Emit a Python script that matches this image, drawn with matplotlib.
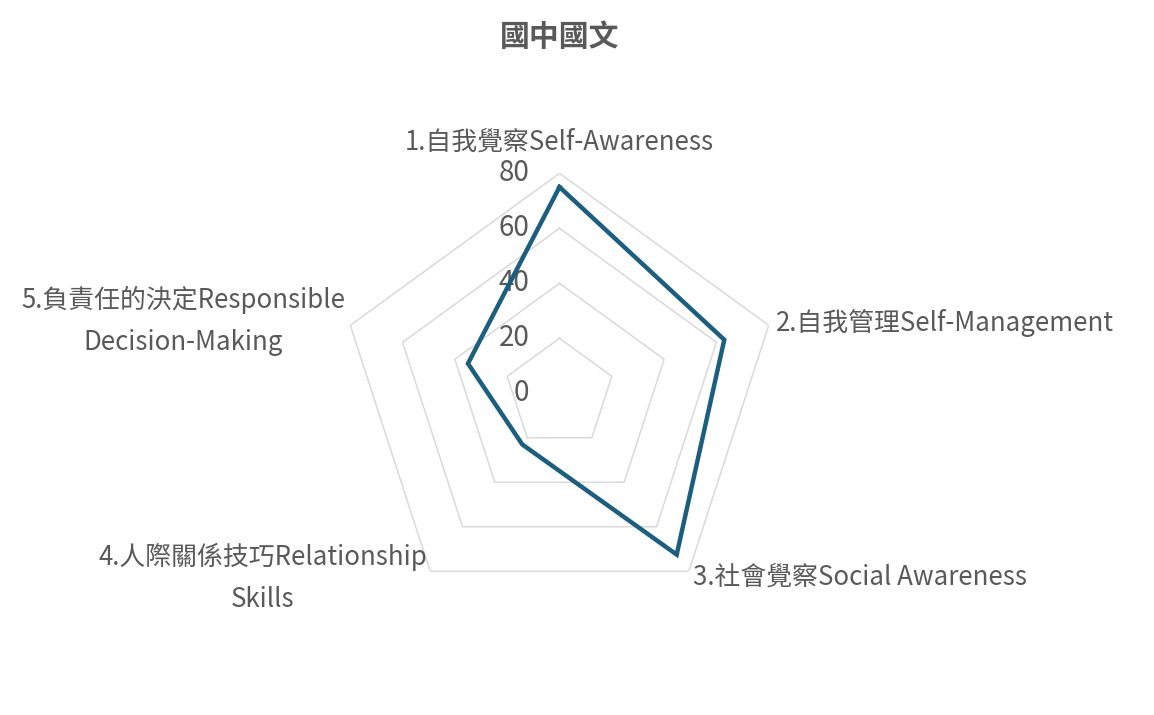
import numpy as np
import matplotlib
matplotlib.use("Agg")
import matplotlib.pyplot as plt
from matplotlib.transforms import offset_copy

plt.rcParams['font.family'] = ['Noto Sans CJK TC', 'DejaVu Sans']

title = "國中國文"
categories = [
    "1.自我覺察Self-Awareness",
    "2.自我管理Self-Management",
    "3.社會覺察Social Awareness",
    "4.人際關係技巧Relationship\nSkills",
    "5.負責任的決定Responsible\nDecision-Making",
]
values = [75, 63, 72.5, 23, 35]
rticks = [0, 20, 40, 60, 80]

W, H = 1154, 715
DPI = 100
TEXT = "#595959"
GRID = "#D9D9D9"
LINE = "#1B5E7F"

fig = plt.figure(figsize=(W / DPI, H / DPI), dpi=DPI)
cx, cy, R = 559.5, 393.3, 220.0
ax = fig.add_axes([(cx - R) / W, (H - cy - R) / H, 2 * R / W, 2 * R / H],
                  projection='polar')
ax.set_theta_offset(np.pi / 2)
ax.set_theta_direction(-1)
ax.set_ylim(0, rticks[-1])
ax.grid(False)
ax.set_xticks([])
ax.set_yticks([])
ax.spines['polar'].set_visible(False)
ax.patch.set_alpha(0)

n = len(categories)
theta = np.linspace(0, 2 * np.pi, n, endpoint=False)
theta_c = np.append(theta, theta[0])

# pentagon grid rings
for r in rticks[1:]:
    ax.plot(theta_c, [r] * (n + 1), color=GRID, lw=1.1, zorder=1)

# data line
vals_c = values + values[:1]
ax.plot(theta_c, vals_c, color=LINE, lw=3.2, zorder=3, solid_joinstyle='miter')

# radial tick labels
tr = offset_copy(ax.transData, fig=fig, x=-30, y=0, units='dots')
for r in rticks:
    ax.text(0, r, str(r), transform=tr, ha='right', va='center',
            fontsize=20, color=TEXT, zorder=2)

# category labels (figure pixel positions)
label_pos = [
    (559.5, 141.7, 'center'),
    (776, 322.7, 'left'),
    (693, 578, 'left'),
    (263, 577.5, 'center'),
    (183, 321, 'center'),
]
for lab, (x, y, ha) in zip(categories, label_pos):
    fig.text(x / W, 1 - y / H, lab, ha=ha, va='center', fontsize=18.6,
             color=TEXT, linespacing=1.72, multialignment='center')

fig.text(559.5 / W, 1 - 37 / H, title, ha='center', va='center',
         fontsize=21.5, fontweight='bold', color=TEXT)

fig.savefig("out.png", dpi=DPI, facecolor='white')
